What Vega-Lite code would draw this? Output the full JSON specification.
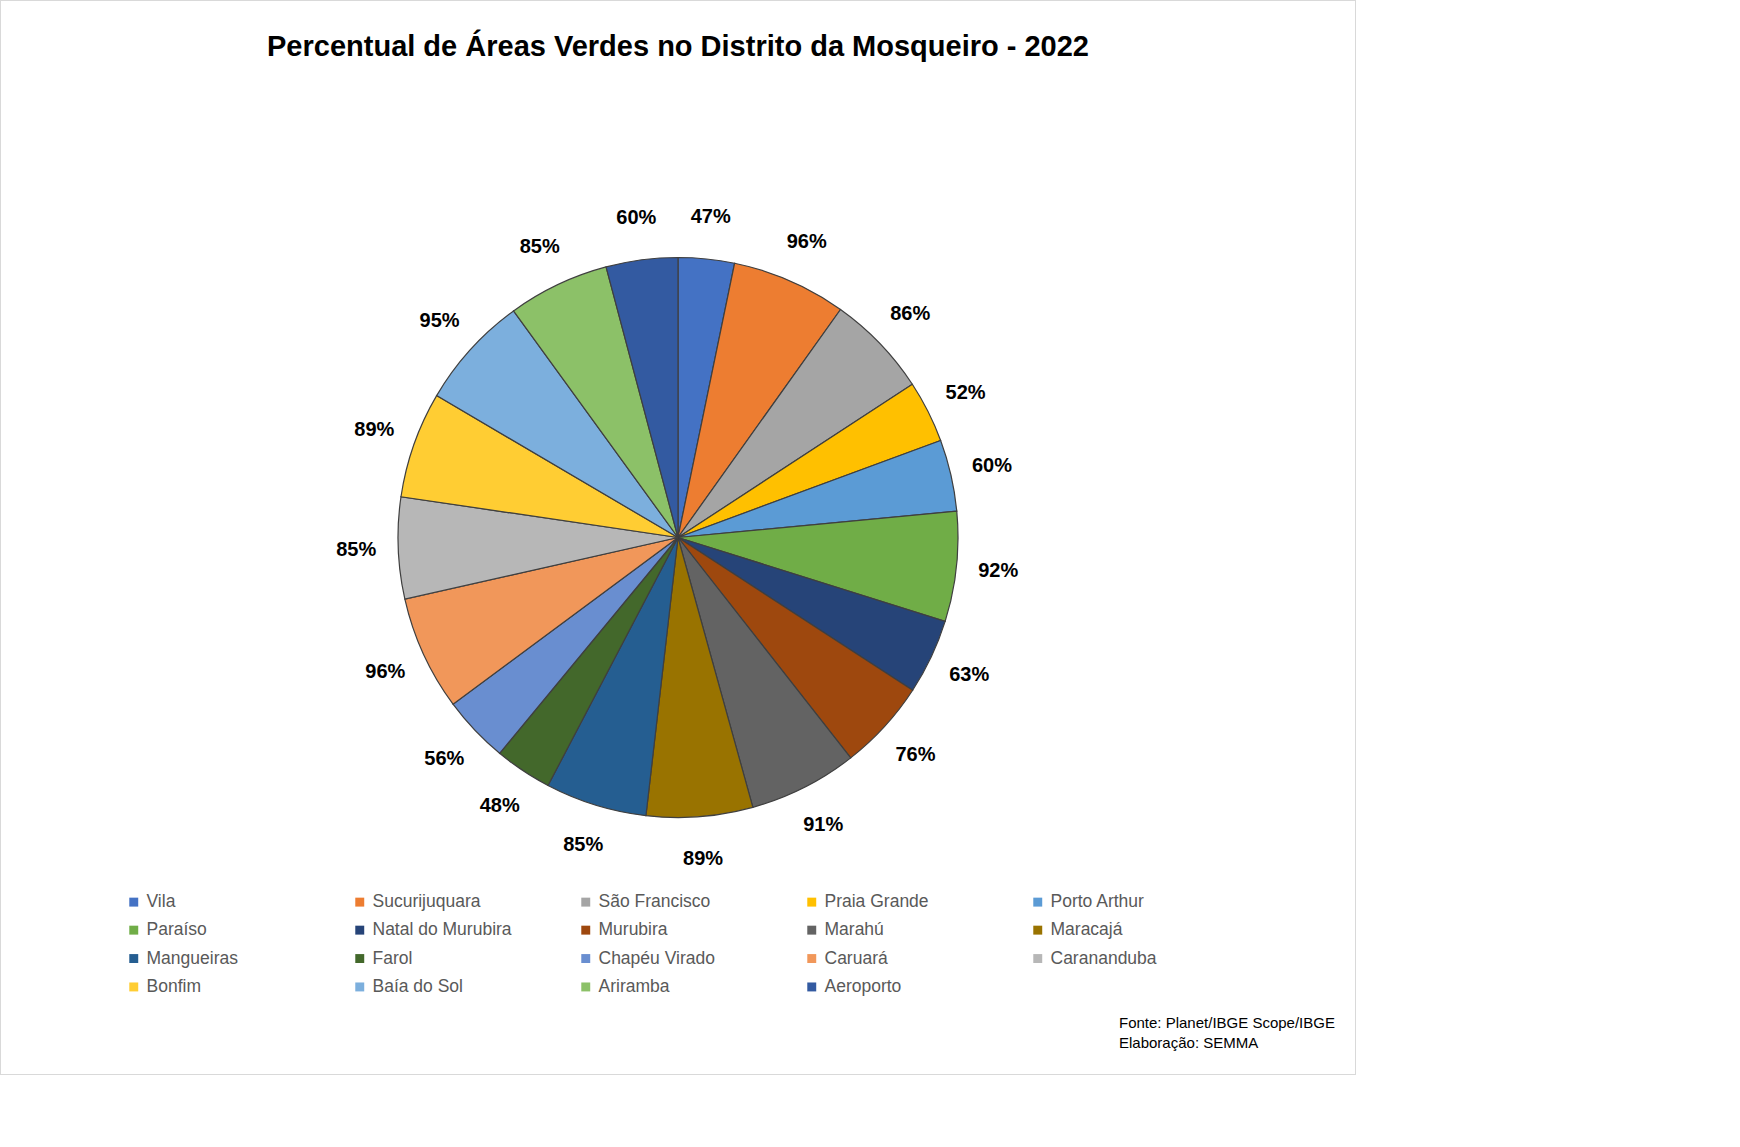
{
  "$schema": "https://vega.github.io/schema/vega-lite/v6.json",
  "description": "Percentual de áreas verdes por bairro no distrito de Mosqueiro, 2022.",
  "autosize": {"type": "none"},
  "padding": 0,
  "width": 1356,
  "height": 1075,
  "background": "white",
  "title": {
    "text": "Percentual de Áreas Verdes no Distrito da Mosqueiro - 2022",
    "font": "Liberation Sans",
    "fontSize": 29,
    "fontWeight": "bold",
    "color": "#000000",
    "anchor": "middle",
    "offset": -62
  },
  "config": {
    "view": {"stroke": "#D9D9D9", "strokeWidth": 2},
    "font": "Liberation Sans"
  },
  "data": {
    "values": [
      {"ordem": 1, "bairro": "Vila", "valor": 47},
      {"ordem": 2, "bairro": "Sucurijuquara", "valor": 96},
      {"ordem": 3, "bairro": "São Francisco", "valor": 86},
      {"ordem": 4, "bairro": "Praia Grande", "valor": 52},
      {"ordem": 5, "bairro": "Porto Arthur", "valor": 60},
      {"ordem": 6, "bairro": "Paraíso", "valor": 92},
      {"ordem": 7, "bairro": "Natal do Murubira", "valor": 63},
      {"ordem": 8, "bairro": "Murubira", "valor": 76},
      {"ordem": 9, "bairro": "Marahú", "valor": 91},
      {"ordem": 10, "bairro": "Maracajá", "valor": 89},
      {"ordem": 11, "bairro": "Mangueiras", "valor": 85},
      {"ordem": 12, "bairro": "Farol", "valor": 48},
      {"ordem": 13, "bairro": "Chapéu Virado", "valor": 56},
      {"ordem": 14, "bairro": "Caruará", "valor": 96},
      {"ordem": 15, "bairro": "Carananduba", "valor": 85},
      {"ordem": 16, "bairro": "Bonfim", "valor": 89},
      {"ordem": 17, "bairro": "Baía do Sol", "valor": 95},
      {"ordem": 18, "bairro": "Ariramba", "valor": 85},
      {"ordem": 19, "bairro": "Aeroporto", "valor": 60}
    ]
  },
  "transform": [{"calculate": "datum.valor + '%'", "as": "rotulo"}],
  "layer": [
    {
      "mark": {"type": "arc", "outerRadius": 280, "stroke": "#3F3F3F", "strokeWidth": 1.2},
      "encoding": {
        "theta": {"field": "valor", "type": "quantitative", "stack": true},
        "order": {"field": "ordem", "type": "quantitative"},
        "color": {
          "field": "bairro",
          "type": "nominal",
          "sort": null,
          "scale": {
            "domain": ["Vila", "Sucurijuquara", "São Francisco", "Praia Grande", "Porto Arthur", "Paraíso", "Natal do Murubira", "Murubira", "Marahú", "Maracajá", "Mangueiras", "Farol", "Chapéu Virado", "Caruará", "Carananduba", "Bonfim", "Baía do Sol", "Ariramba", "Aeroporto"],
            "range": ["#4472C4", "#ED7D31", "#A5A5A5", "#FFC000", "#5B9BD5", "#70AD47", "#264478", "#9E480E", "#636363", "#997300", "#255E91", "#43682B", "#698ED0", "#F1975A", "#B7B7B7", "#FFCD33", "#7CAFDD", "#8CC168", "#335AA1"]
          },
          "legend": {
            "title": null,
            "orient": "none",
            "legendX": 125,
            "legendY": 893,
            "direction": "horizontal",
            "columns": 5,
            "gridAlign": "all",
            "columnPadding": 65,
            "rowPadding": 9.4,
            "symbolType": "square",
            "symbolSize": 80,
            "symbolStrokeWidth": 0,
            "labelFont": "Liberation Sans",
            "labelFontSize": 17.5,
            "labelColor": "#595959",
            "labelOffset": 4
          }
        }
      }
    },
    {
      "mark": {"type": "text", "radius": 322, "font": "Liberation Sans", "fontSize": 20, "fontWeight": "bold", "color": "#000000"},
      "encoding": {
        "theta": {"field": "valor", "type": "quantitative", "stack": true},
        "order": {"field": "ordem", "type": "quantitative"},
        "text": {"field": "rotulo", "type": "nominal"}
      }
    },
    {
      "data": {
        "values": [
          {"linhas": ["Fonte: Planet/IBGE Scope/IBGE", "Elaboração: SEMMA"]}
        ]
      },
      "mark": {"type": "text", "align": "left", "baseline": "bottom", "dx": -237, "dy": -44, "fontSize": 15, "color": "#000000", "lineHeight": 20},
      "encoding": {
        "x": {"value": "width"},
        "y": {"value": "height"},
        "text": {"field": "linhas"}
      }
    }
  ]
}
